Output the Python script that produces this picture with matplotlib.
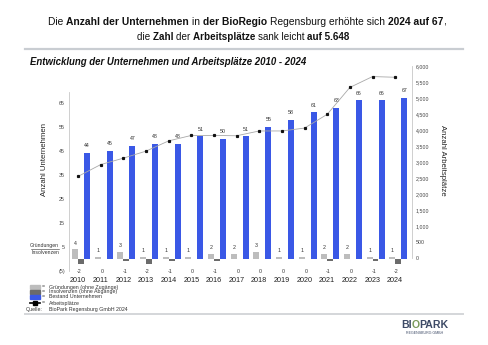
import numpy as np
import matplotlib
matplotlib.use("Agg")
import matplotlib.pyplot as plt
from matplotlib import font_manager
from matplotlib.patches import Rectangle
from matplotlib.lines import Line2D

plt.rcParams['font.family'] = ['Liberation Sans', 'DejaVu Sans']

# data
years = [2010, 2011, 2012, 2013, 2014, 2015, 2016, 2017, 2018, 2019, 2020, 2021, 2022, 2023, 2024]
bestand = [44, 45, 47, 48, 48, 51, 50, 51, 55, 58, 61, 63, 66, 66, 67]
gruendungen = [4, 1, 3, 1, 1, 1, 2, 2, 3, 1, 1, 2, 2, 1, 1]
insolvenzen = [-2, 0, -1, -2, -1, 0, -1, 0, 0, 0, 0, -1, 0, -1, -2]
arbeitsplaetze = [2550, 2920, 3120, 3340, 3660, 3830, 3830, 3820, 3970, 3970, 4060, 4490, 5330, 5670, 5648]
left_ticks = [-5, 5, 15, 25, 35, 45, 55, 65]
left_ticklabels = ["(5)", "5", "15", "25", "35", "45", "55", "65"]
right_ticks = list(range(0, 6001, 500))

legend_labels = ["Gründungen (ohne Zugänge)", "Insolvenzen (ohne Abgänge)",
                 "Bestand Unternehmen", "Arbeitsplätze"]

BLUE = '#3a58e6'
LGREY = '#bdbdbd'
DGREY = '#6b6b6b'
AXGREY = '#c8c8c8'

W, H = 489, 345
fig = plt.figure(figsize=(W / 100, H / 100), dpi=100)

# narrow font for the headline if there is one
installed = {f.name for f in font_manager.fontManager.ttflist}
title_font = 'Liberation Sans Narrow' if 'Liberation Sans Narrow' in installed else 'Liberation Sans'


def fx(px):
    return px / W


def fy(py):
    return 1 - py / H


def rich_line(y, segments, size, xc=None, max_w=None):
    """draw text pieces of mixed weight one after another"""
    r = fig.canvas.get_renderer()

    def measure(sz):
        ws = []
        for txt, bold in segments:
            t = fig.text(0, 0, txt, fontsize=sz, family=title_font,
                         fontweight='bold' if bold else 'normal')
            ws.append(t.get_window_extent(r).width)
            t.remove()
        return ws

    widths = measure(size)
    if max_w is not None and sum(widths) > max_w:
        size = size * max_w / sum(widths)
        widths = measure(size)
    x = xc - sum(widths) / 2
    for (txt, bold), w in zip(segments, widths):
        fig.text(fx(x), fy(y), txt, fontsize=size, family=title_font,
                 fontweight='bold' if bold else 'normal',
                 va='center', ha='left', color='#111111')
        x += w


# title
rich_line(22, [("Die ", False), ("Anzahl der Unternehmen ", True), ("in ", False),
               ("der BioRegio ", True), ("Regensburg erhöhte sich ", False), ("2024 auf 67", True),
               (",", False)], 9.5, xc=247, max_w=399)
rich_line(37, [("die ", False), ("Zahl ", True), ("der ", False), ("Arbeitsplätze ", True),
               ("sank leicht ", False), ("auf 5.648", True)], 9.5, xc=243, max_w=214)

fig.add_artist(Line2D([fx(25), fx(463)], [fy(49), fy(49)], color='#c9cdd2', lw=1.6,
                      transform=fig.transFigure))
fig.text(fx(30), fy(62), "Entwicklung der Unternehmen und Arbeitsplätze 2010 - 2024",
         fontsize=6.9, fontweight='bold', fontstyle='italic', va='center', color='#111111')

# main axes (companies)
ax = fig.add_axes([fx(69), fy(271), fx(411.7) - fx(69), fy(92) - fy(271)])
x = np.arange(len(years))
bw = 0.26
ax.bar(x - 0.13, gruendungen, bw, color=LGREY, zorder=2)
ax.bar(x + 0.13, insolvenzen, bw, color=DGREY, zorder=2)
ax.bar(x + 0.40, bestand, bw, color=BLUE, zorder=2)

for i in range(len(years)):
    ax.text(x[i] + 0.40, bestand[i] + 2.0, str(bestand[i]), ha='center', va='bottom',
            fontsize=3.8, color='#333333')
    ax.text(x[i] - 0.13, gruendungen[i] + 2.6, str(gruendungen[i]), ha='center', va='center',
            fontsize=3.8, color='#333333')
    ax.text(x[i] + 0.06, -5.3, str(insolvenzen[i]), ha='center', va='center',
            fontsize=3.8, color='#333333')

ax.set_xlim(-0.4, 14.73)
ax.set_ylim(-5, 69.5)
ax.set_yticks(left_ticks)
ax.set_yticklabels(left_ticklabels)
ax.tick_params(axis='y', length=0, labelsize=3.8, pad=3, labelcolor='#444444')
ax.set_xticks(x)
ax.set_xticklabels([str(y) for y in years])
ax.tick_params(axis='x', length=0, labelsize=5.2, pad=4, labelcolor='#222222')
for s in ['top', 'right', 'bottom']:
    ax.spines[s].set_visible(False)
ax.spines['left'].set_color(AXGREY)
ax.spines['left'].set_linewidth(0.6)
ax.patch.set_alpha(0)

# second axes (jobs), right scale spans a different height on the slide
ax2 = fig.add_axes([fx(69), fy(258), fx(411.7) - fx(69), fy(66) - fy(258)])
ax2.plot(x, arbeitsplaetze, color='#a8a8a8', lw=0.6, marker='s', markersize=1.3,
         markerfacecolor='#111111', markeredgecolor='#111111', zorder=3)
ax2.set_xlim(-0.4, 14.73)
ax2.set_ylim(0, 6000)
ax2.set_xticks([])
ax2.yaxis.tick_right()
ax2.set_yticks(right_ticks)
ax2.set_yticklabels([f"{v:,}" for v in right_ticks])
ax2.tick_params(axis='y', length=0, labelsize=3.8, pad=3, labelcolor='#444444')
for s in ['top', 'left', 'bottom']:
    ax2.spines[s].set_visible(False)
ax2.spines['right'].set_color(AXGREY)
ax2.spines['right'].set_linewidth(0.6)
ax2.patch.set_alpha(0)

fig.text(fx(45), fy(159), "Anzahl Unternehmen", rotation=90, fontsize=5.6,
         ha='center', va='center', color='#222222')
fig.text(fx(443), fy(160), "Anzahl Arbeitsplätze", rotation=270, fontsize=5.6,
         ha='center', va='center', color='#222222')

fig.text(fx(59), fy(246), "Gründungen", fontsize=3.7, ha='right', va='center', color='#333333')
fig.add_artist(Line2D([fx(31), fx(59)], [fy(248.5), fy(248.5)], color='#333333', lw=0.4,
                      transform=fig.transFigure))
fig.text(fx(59), fy(252.5), "Insolvenzen", fontsize=3.7, ha='right', va='center', color='#333333')

# legend drawn by hand
leg_y = [287, 292, 297, 303]
leg_col = [LGREY, DGREY, BLUE, None]
for yy, col, lab in zip(leg_y, leg_col, legend_labels):
    if col is not None:
        fig.add_artist(Rectangle((fx(30), fy(yy + 1.8)), fx(10), fy(yy - 1.8) - fy(yy + 1.8),
                                 color=col, transform=fig.transFigure))
    else:
        fig.add_artist(Line2D([fx(30), fx(40)], [fy(yy), fy(yy)], color='black', lw=1.2,
                              transform=fig.transFigure))
        fig.add_artist(Line2D([fx(35)], [fy(yy)], color='black', marker='s', markersize=2.2,
                              transform=fig.transFigure))
    fig.text(fx(42), fy(yy), "=", fontsize=3.8, va='center', color='#333333')
    fig.text(fx(49), fy(yy), lab, fontsize=3.8, va='center', color='#333333')
fig.text(fx(26), fy(309), "Quelle:", fontsize=3.8, va='center', color='#333333')
fig.text(fx(49), fy(309), "BioPark Regensburg GmbH 2024", fontsize=3.8, va='center', color='#333333')

fig.add_artist(Line2D([fx(25), fx(463)], [fy(314), fy(314)], color='#d4d6d9', lw=1.4,
                      transform=fig.transFigure))

# logo as text
rich_x = 401
r = fig.canvas.get_renderer()
for txt, col in [("BI", '#3d4a66'), ("O", '#7a9a5a'), ("PARK", '#3d4a66')]:
    t = fig.text(fx(rich_x), fy(325), txt, fontsize=7.6, fontweight='bold', color=col, va='center')
    rich_x += t.get_window_extent(r).width
fig.text(fx(425), fy(333), "REGENSBURG GMBH", fontsize=2.6, color='#3d4a66', ha='center', va='center')

fig.savefig("out.png", dpi=100)
